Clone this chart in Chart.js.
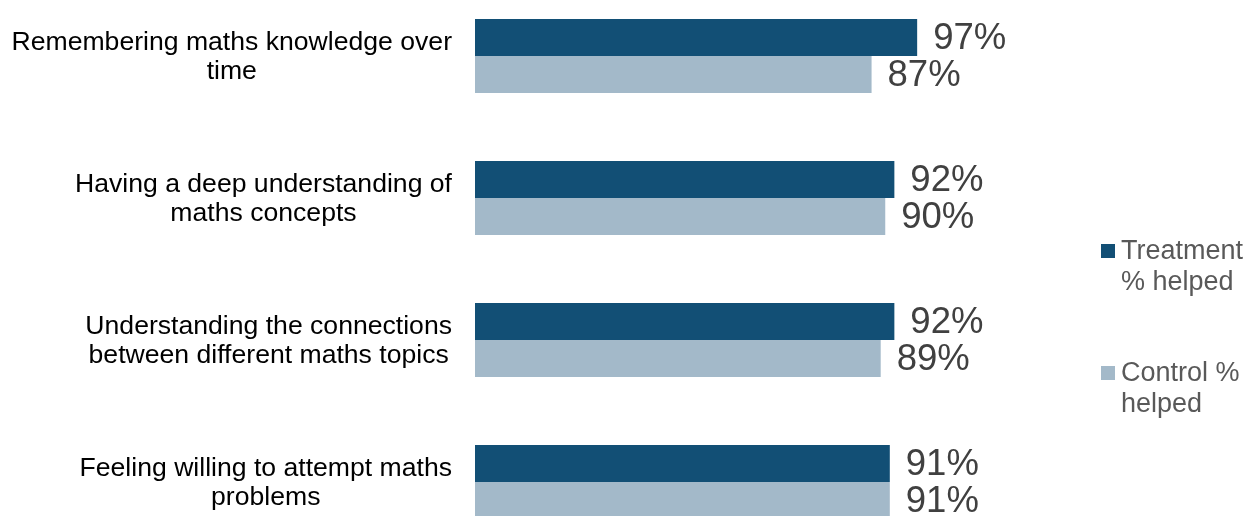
<!DOCTYPE html>
<html>
<head>
<meta charset="utf-8">
<script src="https://cdn.jsdelivr.net/npm/chart.js@4"></script>
<style>
  html, body { margin: 0; padding: 0; background: #fff; overflow: hidden; }
  #wrap { position: absolute; left: 0; top: -15px; width: 1245px; height: 568px; }
</style>
</head>
<body>
<div id="wrap"><canvas id="chart" width="1245" height="568"></canvas></div>
<script>
// données
const categories = [
  ['Remembering maths knowledge over', 'time'],
  ['Having a deep understanding of', 'maths concepts'],
  ['Understanding the connections', 'between different maths topics'],
  ['Feeling willing to attempt maths', 'problems']
];
const treatment = [97, 92, 92, 91];
const control = [87, 90, 89, 91];
const seriesNames = ['Treatment % helped', 'Control % helped'];
const legendLines = [['Treatment', '% helped'], ['Control %', 'helped']];
const colors = ['#124F75', '#A3B9C9'];

const FONT = "'Liberation Sans', Arial, sans-serif";

// étiquettes des catégories (lignes centrées, bloc aligné à droite),
// étiquettes de valeurs + légende à droite
const labelsPlugin = {
  id: 'labelsPlugin',
  afterDatasetsDraw(chart) {
    const ctx = chart.ctx;
    const yScale = chart.scales.y;
    ctx.save();
    ctx.textBaseline = 'middle';

    // catégories
    ctx.font = '26.6px ' + FONT;
    ctx.fillStyle = '#000000';
    ctx.textAlign = 'center';
    const right = chart.chartArea.left - 23;
    chart.data.labels.forEach((lines, j) => {
      const maxW = Math.max(...lines.map(t => ctx.measureText(t).width));
      const cx = right - maxW / 2;
      const cy = yScale.getPixelForTick(j) + 1.5;
      const lh = 29;
      lines.forEach((t, k) => {
        ctx.fillText(t, cx, cy + (k - (lines.length - 1) / 2) * lh);
      });
    });

    // valeurs
    ctx.textAlign = 'left';
    ctx.font = '36.5px ' + FONT;
    ctx.fillStyle = '#404040';
    chart.data.datasets.forEach((ds, i) => {
      chart.getDatasetMeta(i).data.forEach((bar, j) => {
        ctx.fillText(ds.data[j] + '%', bar.x + 16, bar.y + 1.5);
      });
    });

    // légende
    const legendY = [266, 388];
    ctx.font = '27px ' + FONT;
    legendLines.forEach((lines, i) => {
      ctx.fillStyle = colors[i];
      ctx.fillRect(1101, legendY[i] - 7, 14, 14);
      ctx.fillStyle = '#595959';
      lines.forEach((t, k) => ctx.fillText(t, 1121, legendY[i] + 1 + k * 30.5));
    });
    ctx.restore();
  }
};

const ctx = document.getElementById('chart');
new Chart(ctx, {
  type: 'bar',
  data: {
    labels: categories,
    datasets: [
      { label: seriesNames[0], data: treatment, backgroundColor: colors[0], borderWidth: 0 },
      { label: seriesNames[1], data: control, backgroundColor: colors[1], borderWidth: 0 }
    ]
  },
  options: {
    indexAxis: 'y',
    responsive: false,
    animation: false,
    devicePixelRatio: 1,
    datasets: { bar: { barPercentage: 1, categoryPercentage: 74 / 142 } },
    layout: { padding: { left: 0, right: 223, top: 0, bottom: 0 } },
    plugins: { legend: { display: false }, tooltip: { enabled: false } },
    scales: {
      x: { display: false, min: 0, max: 120 },
      y: {
        grid: { display: false, drawTicks: false },
        border: { display: false },
        ticks: { display: false },
        afterFit(scale) {
          scale.width = 475;
          scale.paddingTop = 0;
          scale.paddingBottom = 0;
        }
      }
    }
  },
  plugins: [labelsPlugin]
});
</script>
</body>
</html>
